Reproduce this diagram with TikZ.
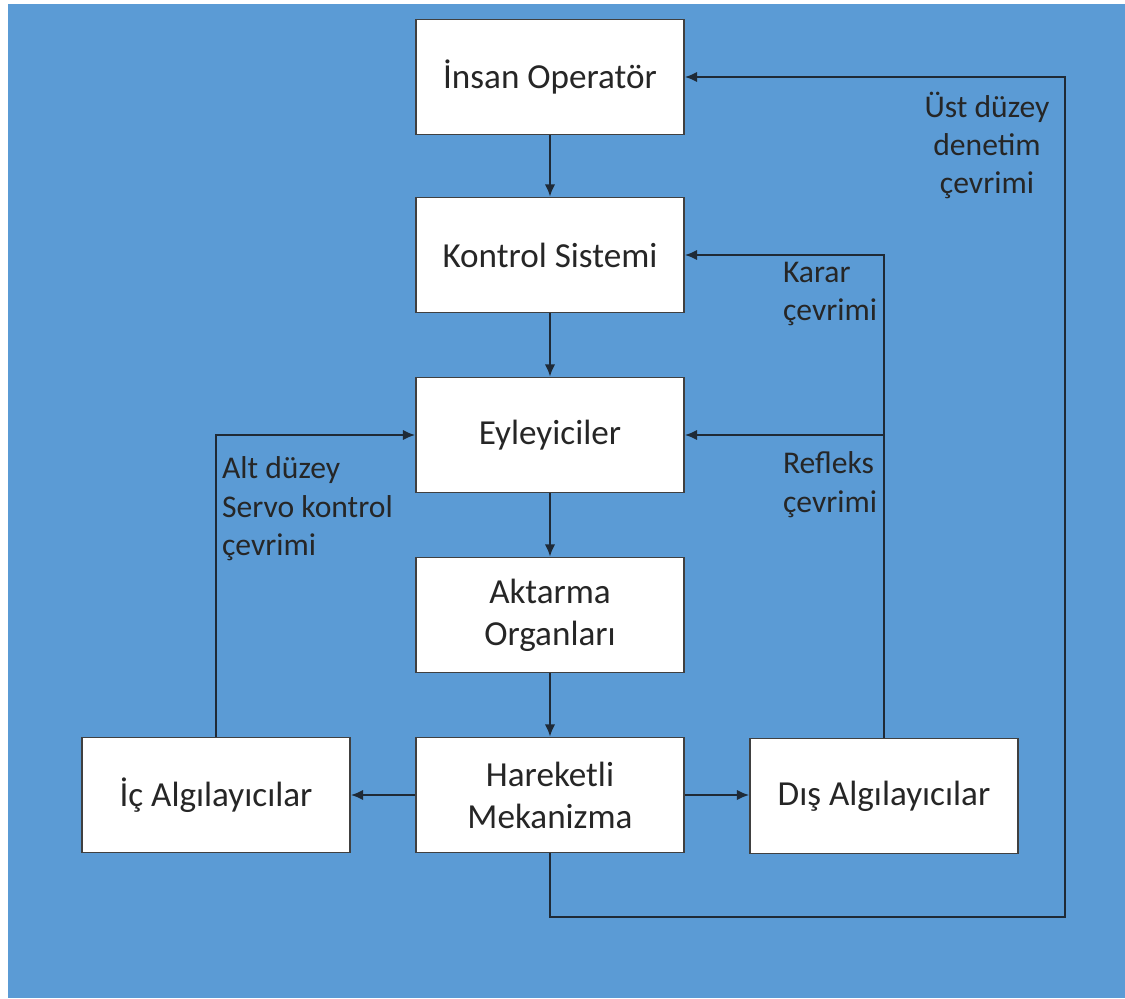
\documentclass[tikz,border=0pt]{standalone}
\usepackage{fontspec}
\setmainfont{Carlito}
\usetikzlibrary{arrows.meta, calc}
\definecolor{bgblue}{HTML}{5B9BD5}
\definecolor{linegray}{HTML}{1F2A36}

\begin{document}
\begin{tikzpicture}[
    x=0.02cm, y=-0.02cm,
    >={Latex[length=7pt,width=6pt]},
    block/.style={draw=black!75, line width=0.9pt, fill=white, minimum width=5.36cm,
        minimum height=2.3cm, align=center, inner sep=2pt,
        font=\fontsize{20}{24}\selectfont, text=black!85},
    link/.style={->, line width=1.3pt, linegray},
    tag/.style={align=left, inner sep=0pt, outer sep=0pt,
        font=\fontsize{18}{21.8}\selectfont, text=black!85}
]

    % background
    \useasboundingbox (0,0) rectangle (1125,998);
    \fill[bgblue] (8,4) rectangle (1125,998);

    \node[block] (ops)  at (550,77)  {İnsan Operatör};
    \node[block] (ctrl) at (550,255) {Kontrol Sistemi};
    \node[block] (eyl)  at (550,435) {Eyleyiciler};
    \node[block] (akt)  at (550,615) {Aktarma\\Organları};
    \node[block] (hmek) at (550,795) {Hareketli\\Mekanizma};
    \node[block] (ic)   at (216,795) {İç Algılayıcılar};
    \node[block] (dis)  at (884,796) {Dış Algılayıcılar};

    \draw[link] (ops) -- (ctrl);
    \draw[link] (ctrl) -- (eyl);
    \draw[link] (eyl) -- (akt);
    \draw[link] (akt) -- (hmek);
    \draw[link] (hmek) -- (ic);
    \draw[link] (hmek) -- (dis.west |- hmek.east);

    % feedback loops
    \draw[link] (ic.north) |- (eyl.west);
    \draw[link] (dis.north) |- (ctrl.east);
    \coordinate (refl) at (dis.north |- eyl.east);
    \draw[link] (refl) -- (eyl.east);
    \coordinate (ustR) at (1065,917);
    \draw[link] (hmek.south) |- (ustR) |- (ops.east);

    \node[tag, anchor=north west] (altlbl) at (222,457) {Alt düzey\\Servo kontrol\\çevrimi};
    \node[tag, anchor=north west] (kararlbl) at (783,262) {Karar\\çevrimi};
    \node[tag, anchor=north west] (reflbl) at (783,452) {Refleks\\çevrimi};
    \node[tag, anchor=north, align=center] (ustlbl) at (987,92) {Üst düzey\\denetim\\çevrimi};

\end{tikzpicture}
\end{document}
